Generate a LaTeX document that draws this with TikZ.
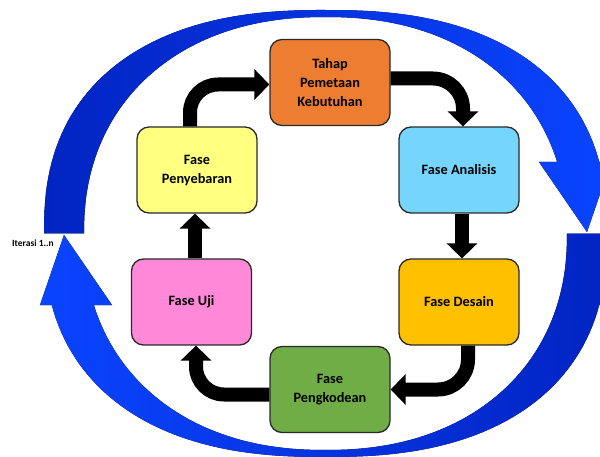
\documentclass[tikz,border=0pt]{standalone}
\usepackage{fontspec}
\setmainfont{Carlito}
\usetikzlibrary{arrows.meta}
\definecolor{cOrange}{HTML}{ED7D31}
\definecolor{cSky}{HTML}{75D5FD}
\definecolor{cGold}{HTML}{FFC000}
\definecolor{cGreen}{HTML}{70AD47}
\definecolor{cPink}{HTML}{FF89D8}
\definecolor{cLemon}{HTML}{FFFF80}
\definecolor{cLine}{HTML}{2A2A2A}
\definecolor{blueDark}{HTML}{0224C2}
\definecolor{blueBright}{HTML}{0A44FF}
\begin{document}
\begin{tikzpicture}[x=1pt,y=-1pt,
  phase/.style={draw=cLine, line width=1.3pt, rounded corners=12pt, minimum width=120pt, minimum height=86pt, inner sep=2pt, align=center, text=black, font=\bfseries\fontsize{14.3}{19}\selectfont},
  flow/.style={draw=black, line width=14pt, -{Triangle[width=30pt,length=15pt]}},
  lbl/.style={font=\bfseries\fontsize{9.5}{11}\selectfont, text=black, inner sep=0pt}
]
\useasboundingbox (0,0) rectangle (600,457);
\clip (0,0) rectangle (600,457);

% top blue arc (tail left, head right)
\fill[left color=blueDark, right color=blueBright]
  plot[variable=\t, domain=180:14.76, samples=90]
   ({325.5+281.5*cos(\t)*pow(abs(cos(\t))+0.00001,-0.1667)}, {233.5-223.5*pow(abs(sin(\t))+0.00001,0.8333)})
  -- (611,162) -- (587,232) -- (539,162)
  -- plot[variable=\t, domain=17.2:180, samples=90]
   ({325.5+241.5*cos(\t)*pow(abs(cos(\t))+0.00001,-0.0909)}, {233.5-216.5*pow(abs(sin(\t))+0.00001,0.9091)})
  -- cycle;

% bottom blue arc (tail right, head left)
\fill[left color=blueBright, right color=blueDark]
  plot[variable=\t, domain=180:14.76, samples=90]
   ({325.5-281.5*cos(\t)*pow(abs(cos(\t))+0.00001,-0.1667)}, {233.5+223.5*pow(abs(sin(\t))+0.00001,0.8333)})
  -- (40,305) -- (64,235) -- (112,305)
  -- plot[variable=\t, domain=17.2:180, samples=90]
   ({325.5-241.5*cos(\t)*pow(abs(cos(\t))+0.00001,-0.0909)}, {233.5+216.5*pow(abs(sin(\t))+0.00001,0.9091)})
  -- cycle;

\node[phase, fill=cOrange] (tahap) at (330,82.5) {Tahap\\Pemetaan\\Kebutuhan};
\node[phase, fill=cSky] (ana) at (459,170) {Fase Analisis};
\node[phase, fill=cGold] (des) at (459,302) {Fase Desain};
\node[phase, fill=cGreen] (peng) at (330,389.5) {Fase\\Pengkodean};
\node[phase, fill=cPink] (uji) at (191.5,302) {Fase Uji};
\node[phase, fill=cLemon] (peny) at (197,170) {Fase\\Penyebaran};
\node[lbl] (iter) at (33,243) {Iterasi 1..n};

\draw[flow, rounded corners=28pt] ([xshift=-7pt]peny.north) |- ([yshift=-2pt]tahap.west);
\draw[flow, rounded corners=30pt] ([yshift=4pt]tahap.east) -| ([xshift=4pt]ana.north);
\draw[flow] ([xshift=3pt]ana.south) -- ([xshift=3pt]des.north);
\draw[flow, rounded corners=30pt] ([xshift=9pt]des.south) |- (peng.east);
\draw[flow, rounded corners=28pt] ([yshift=-5pt]peng.west) -| ([xshift=4.5pt]uji.south);
\draw[flow] ([xshift=3.5pt]uji.north) -- ([xshift=-2pt]peny.south);
\end{tikzpicture}
\end{document}
